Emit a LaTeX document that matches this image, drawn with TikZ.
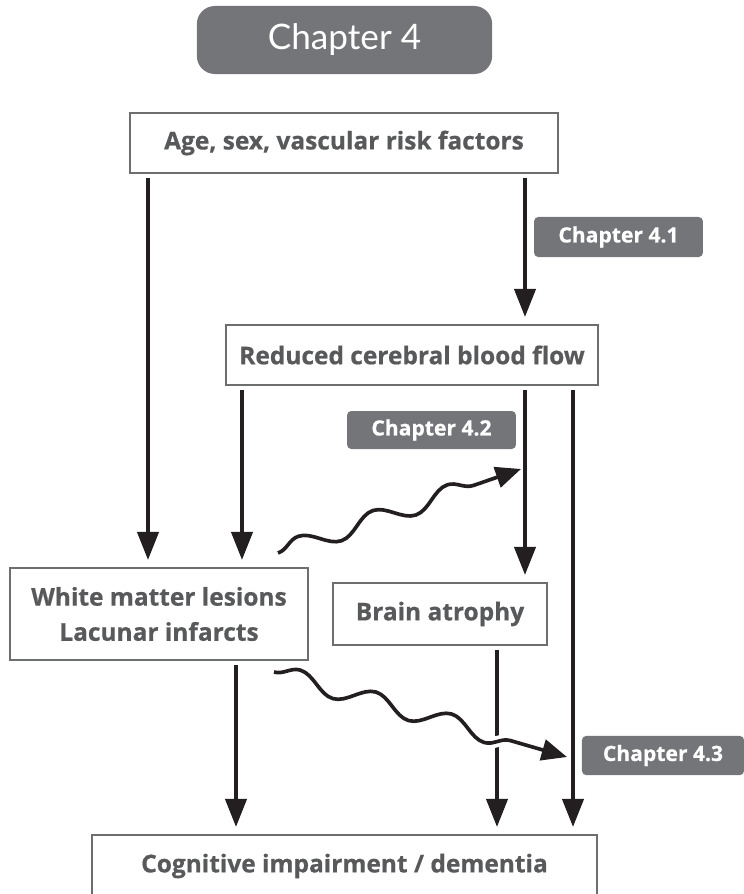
\documentclass[tikz,border=0pt]{standalone}
\usepackage{fontspec}
\setmainfont{Open Sans}[BoldFeatures={FakeBold=0.6}]
\newfontfamily\headfont{Lato}
\usepackage{tikz}
\usetikzlibrary{arrows.meta,decorations.pathmorphing}

\definecolor{chapgray}{HTML}{747578}
\definecolor{boxgray}{HTML}{6D6E70}
\definecolor{textgray}{HTML}{58595B}
\definecolor{arrowblack}{HTML}{231F20}

\begin{document}
\begin{tikzpicture}[x=0.025cm,y=-0.025cm]
	\tikzset{
		box/.style={draw=boxgray,line width=1.4pt,fill=white,text=textgray,
			font=\bfseries\fontsize{17.4}{25}\selectfont,align=center,inner sep=0pt},
		chap/.style={fill=chapgray,text=white,rounded corners=3pt,
			font=\bfseries\fontsize{15}{16}\selectfont,inner sep=0pt},
		arr/.style={draw=arrowblack,line width=2.8pt,
			-{Triangle[length=20pt,width=15pt]},shorten <=3pt,shorten >=5pt},
		wave/.style={draw=arrowblack,line width=2.6pt,-{Triangle[length=18pt,width=15pt]},
			decorate,decoration={snake,amplitude=6.5pt,segment length=56pt,post length=20pt}}
	}
	\useasboundingbox (0,0) rectangle (743,894);

	%% Chapter headings
	\node[chap,rounded corners=0.45cm,minimum width=7.38cm,minimum height=1.7cm,
		font=\headfont\fontsize{25}{30}\selectfont] (ch4) at (344.5,40) {Chapter 4};
	\node[chap,minimum width=4.22cm,minimum height=1.0cm] (ch41) at (618.5,237) {Chapter 4.1};
	\node[chap,minimum width=4.22cm,minimum height=0.95cm] (ch42) at (431.5,430) {Chapter 4.2};
	\node[chap,minimum width=4.05cm,minimum height=0.98cm] (ch43) at (663,755.5) {Chapter 4.3};

	%% Boxes
	\node[box,minimum width=10.7cm,minimum height=1.5cm] (risk) at (344,143) {Age, sex, vascular risk factors};
	\node[box,minimum width=9.3cm,minimum height=1.5cm] (flow) at (412,355) {Reduced cerebral blood flow};
	\node[box,minimum width=7.45cm,minimum height=2.3cm] (wml) at (159,614) {White matter lesions\\Lacunar infarcts};
	\node[box,minimum width=5.35cm,minimum height=1.55cm] (atrophy) at (440,614) {Brain atrophy};
	\node[box,minimum width=12.62cm,minimum height=1.55cm] (cog) at (344.5,866) {Cognitive impairment / dementia};

	%% Arrow columns
	\coordinate (c1) at (148,0);
	\coordinate (c2) at (242,0);
	\coordinate (c3) at (236,0);
	\coordinate (c4) at (525,0);
	\coordinate (c5) at (497,0);
	\coordinate (c6) at (573,0);

	\draw[arr] (risk.south -| c1) -- (wml.north -| c1);
	\draw[arr] (risk.south -| c4) -- (flow.north -| c4);
	\draw[arr] (flow.south -| c2) -- (wml.north -| c2);
	\draw[arr] (flow.south -| c4) -- (atrophy.north -| c4);
	\draw[arr] (flow.south -| c6) -- (cog.north -| c6);
	\draw[arr] (wml.south -| c3) -- (cog.north -| c3);
	\draw[arr] (atrophy.south -| c5) -- (cog.north -| c5);

	%% Wavy links to the sub chapters
	\coordinate (w1s) at (278,553);
	\coordinate (w1e) at (521,469);
	\coordinate (w2s) at (274,672);
	\coordinate (w2e) at (567,757);
	\draw[wave] (w1s) -- (w1e);
	\draw[wave,preaction={draw=white,line width=8pt,-}] (w2s) -- (w2e);
\end{tikzpicture}
\end{document}
